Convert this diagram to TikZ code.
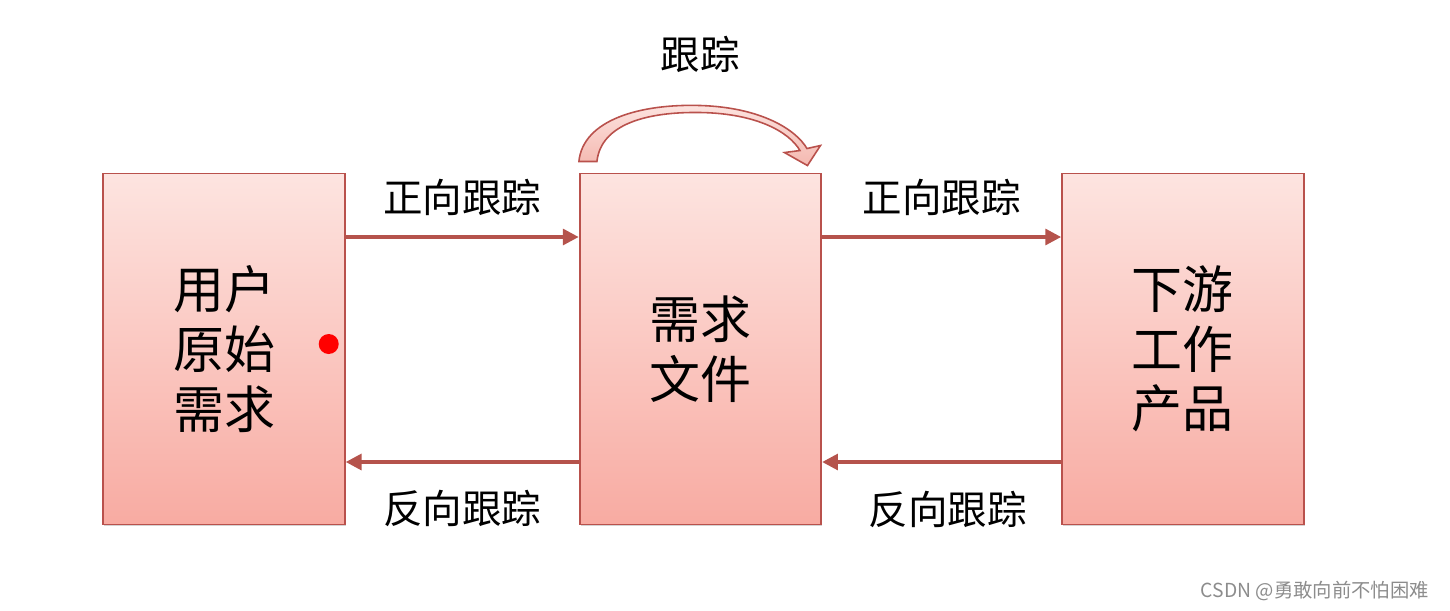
\documentclass[tikz,border=0pt]{standalone}
\usepackage{fontspec}
\setmainfont{Noto Sans CJK SC}
\usetikzlibrary{positioning,arrows.meta,shadows}
\definecolor{reqborder}{HTML}{B9514C}
\definecolor{reqtop}{HTML}{FDE4E0}
\definecolor{reqbottom}{HTML}{F8ABA2}
\definecolor{reqline}{HTML}{B5534C}
\definecolor{reqloop}{HTML}{F4B8B0}
\definecolor{markgray}{HTML}{8C8C8C}

\begin{document}
\begin{tikzpicture}[
  stage/.style={draw=reqborder, line width=1.1pt, top color=reqtop, bottom color=reqbottom, minimum width=4.83cm, minimum height=7.02cm, align=center, font=\fontsize{29}{34}\selectfont, drop shadow={shadow xshift=0.6pt, shadow yshift=-0.8pt, opacity=0.35}},
  flow/.style={-{Triangle[length=9pt,width=9pt]}, reqline, line width=2pt},
  tag/.style={font=\fontsize{22.5}{26}\selectfont, inner sep=0pt, text=black},
  loopback/.style={draw=reqborder, line width=0.9pt, top color=reqtop, bottom color=reqloop}
]
  \useasboundingbox (0,0) rectangle (29,-12.2);
  \node[stage] (user) at (4.48,-6.98) {用户\\原始\\需求};
  \node[stage, right=4.66cm of user] (req) {需求\\文件};
  \node[stage, right=4.78cm of req] (work) {下游\\工作\\产品};

  \draw[flow] ([yshift=2.24cm]user.east) -- node[tag, yshift=0.8cm] (fwd1) {正向跟踪} ([yshift=2.24cm]req.west);
  \draw[flow] ([yshift=-2.26cm]req.west) -- node[tag, yshift=-0.92cm] (back1) {反向跟踪} ([yshift=-2.26cm]user.east);
  \draw[flow] ([yshift=2.24cm]req.east) -- node[tag, yshift=0.8cm] (fwd2) {正向跟踪} ([yshift=2.24cm]work.west);
  \draw[flow] ([yshift=-2.26cm]work.west) -- node[tag, yshift=-0.95cm, xshift=0.12cm] (back2) {反向跟踪} ([yshift=-2.26cm]req.east);

  % self tracking on the requirement file
  \begin{scope}[shift={(req.north)}, x=0.02cm, y=0.02cm]
    \path[loopback] (-121.5,11) .. controls (-117.5,53) and (-59.5,69) .. (0.5,67)
      .. controls (60.5,65) and (95.5,43) .. (106.5,24) -- (120,27) -- (107,7)
      -- (84,20) -- (99.5,22) .. controls (88.5,41) and (55.5,59) .. (0.5,60)
      .. controls (-54.5,61) and (-99.5,48) .. (-103.5,11) -- cycle;
  \end{scope}
  \node[tag] (track) at ([yshift=2.36cm]req.north) {跟踪};

  \node[circle, fill=red, minimum size=0.4cm, inner sep=0pt] (dot) at ([xshift=-0.34cm, yshift=0.1cm]user.east) {};
  \node[anchor=east, text=markgray, font=\fontsize{11}{13}\selectfont] (mark) at (28.7,-11.82) {CSDN @勇敢向前不怕困难};
\end{tikzpicture}
\end{document}
